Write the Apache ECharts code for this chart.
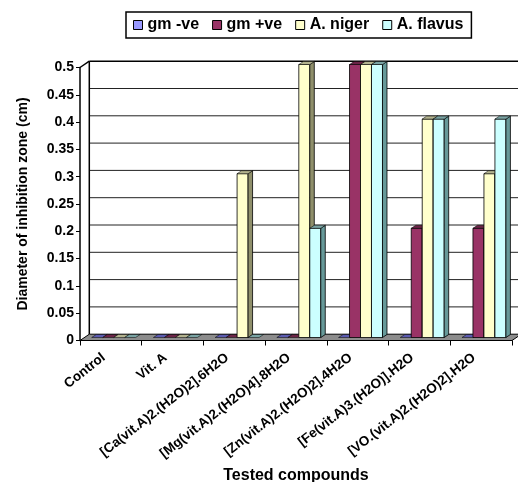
<!DOCTYPE html>
<html>
<head>
<meta charset="utf-8">
<script src="https://cdn.jsdelivr.net/npm/echarts@6/dist/echarts.min.js"></script>
<style>
  html, body { margin: 0; padding: 0; background: #fff; }
  #chart { width: 518px; height: 482px; }
</style>
</head>
<body>
<div id="chart"></div>
<script>
// Tested compounds and inhibition zone diameters (cm)
const categories = [
  'Control',
  'Vit. A',
  '[Ca(vit.A)2.(H2O)2].6H2O',
  '[Mg(vit.A)2.(H2O)4].8H2O',
  '[Zn(vit.A)2.(H2O)2].4H2O',
  '[Fe(vit.A)3.(H2O)].H2O',
  '[VO.(vit.A)2.(H2O)2].H2O'
];
const seriesNames = ['gm -ve', 'gm +ve', 'A. niger', 'A. flavus'];
const gmNeg   = [0, 0, 0,   0,   0,   0,   0];
const gmPos   = [0, 0, 0,   0,   0.5, 0.2, 0.2];
const aNiger  = [0, 0, 0.3, 0.5, 0.5, 0.4, 0.3];
const aFlavus = [0, 0, 0,   0.2, 0.5, 0.4, 0.4];
const yTicks  = [0, 0.05, 0.1, 0.15, 0.2, 0.25, 0.3, 0.35, 0.4, 0.45, 0.5];

const FONT = '"Liberation Sans", Arial, sans-serif';

// depth of the chart box (back wall offset) and of each column
const WALL_DX = 9.3, WALL_DY = -6.3;
const BAR_FX = 2.8, BAR_FY = -3;     // front face of the columns, behind the front plane
const BAR_DX = 4.5, BAR_DY = -3;     // column depth
const BAR_FRAC = 0.178;              // column width as share of a category band

// face colours: front, side, top (top also shows for zero-height columns)
const palette = [
  { front: '#9999FF', side: '#4d4d99', top: '#5c5cb0' },
  { front: '#993366', side: '#4d1a33', top: '#6b2447' },
  { front: '#FFFFCC', side: '#8f8f6b', top: '#b3b38f' },
  { front: '#CCFFFF', side: '#669999', top: '#7aa3a3' }
];
const seriesValues = [gmNeg, gmPos, aNiger, aFlavus];

const edge = { stroke: '#000', lineWidth: 0.8 };

function wallsRender(params, api) {
  const cs = params.coordSys;
  const x0 = cs.x, x1 = cs.x + cs.width;
  const yTop = api.coord([0, yTicks[yTicks.length - 1]])[1];
  const yZero = api.coord([0, 0])[1];
  const children = [];
  // horizontal gridlines on the back wall
  yTicks.forEach(function (v) {
    if (v === 0) return;
    const y = api.coord([0, v])[1] + WALL_DY;
    const isTop = v === yTicks[yTicks.length - 1];
    children.push({
      type: 'line',
      shape: { x1: x0 + WALL_DX, y1: y, x2: x1 + WALL_DX, y2: y },
      style: { stroke: isTop ? '#000' : '#222', lineWidth: isTop ? 1.5 : 1 }
    });
  });
  // back wall left edge
  children.push({
    type: 'line',
    shape: { x1: x0 + WALL_DX, y1: yTop + WALL_DY, x2: x0 + WALL_DX, y2: yZero + WALL_DY },
    style: { stroke: '#000', lineWidth: 1.5 }
  });
  // side wall top edge
  children.push({
    type: 'line',
    shape: { x1: x0, y1: yTop, x2: x0 + WALL_DX, y2: yTop + WALL_DY },
    style: { stroke: '#000', lineWidth: 1.5 }
  });
  // floor
  children.push({
    type: 'polygon',
    shape: { points: [[x0, yZero], [x1, yZero], [x1 + WALL_DX, yZero + WALL_DY], [x0 + WALL_DX, yZero + WALL_DY]] },
    style: { fill: '#8c8c8c', stroke: '#000', lineWidth: 1 }
  });
  return { type: 'group', children: children };
}

function barRender(k) {
  const c = palette[k];
  return function (params, api) {
    const i = api.value(0), v = api.value(1);
    const base = api.coord([i, 0]);
    const top = api.coord([i, v]);
    const band = api.size([1, 0])[0];
    const w = band * BAR_FRAC;
    const xa = base[0] - 2 * w + k * w + BAR_FX;
    const xb = xa + w;
    const yb = base[1] + BAR_FY;
    const yt = top[1] + BAR_FY;
    const children = [];
    if (yb - yt > 0.5) {
      children.push({
        type: 'rect',
        shape: { x: xa, y: yt, width: w, height: yb - yt },
        style: Object.assign({ fill: c.front }, edge)
      });
      children.push({
        type: 'polygon',
        shape: { points: [[xb, yb], [xb + BAR_DX, yb + BAR_DY], [xb + BAR_DX, yt + BAR_DY], [xb, yt]] },
        style: Object.assign({ fill: c.side }, edge)
      });
    }
    children.push({
      type: 'polygon',
      shape: { points: [[xa, yt], [xb, yt], [xb + BAR_DX, yt + BAR_DY], [xa + BAR_DX, yt + BAR_DY]] },
      style: Object.assign({ fill: c.top }, edge, { lineWidth: 0.5 })
    });
    return { type: 'group', children: children };
  };
}

const series = [{
  type: 'custom',
  name: '__walls',
  silent: true,
  z: 1,
  renderItem: wallsRender,
  data: [[0, 0]],
  encode: { x: 0, y: 1 }
}];
seriesValues.forEach(function (vals, k) {
  series.push({
    type: 'custom',
    name: seriesNames[k],
    z: 2 + k,
    itemStyle: { color: palette[k].front, borderColor: '#000', borderWidth: 1 },
    renderItem: barRender(k),
    data: vals.map(function (v, i) { return [i, v]; }),
    encode: { x: 0, y: 1 }
  });
});

const chart = echarts.init(document.getElementById('chart'), null, { renderer: 'canvas' });
chart.setOption({
  animation: false,
  backgroundColor: '#fff',
  textStyle: { fontFamily: FONT },
  legend: {
    data: seriesNames,
    left: 126,
    top: 12,
    icon: 'rect',
    itemWidth: 9,
    itemHeight: 9,
    itemGap: 13,
    itemStyle: { borderColor: '#000', borderWidth: 1 },
    borderColor: '#000',
    borderWidth: 1.5,
    padding: [5, 8, 5, 7],
    textStyle: { fontFamily: FONT, fontWeight: 'bold', fontSize: 16, color: '#000' }
  },
  grid: { left: 80, right: 6, top: 67.5, bottom: 141.5, containLabel: false, outerBoundsMode: 'none' },
  xAxis: {
    type: 'category',
    data: categories,
    boundaryGap: true,
    axisLine: { lineStyle: { color: '#000', width: 1.2 } },
    axisTick: { show: true, alignWithLabel: false, length: 5, lineStyle: { color: '#000', width: 1 } },
    axisLabel: {
      interval: 0,
      rotate: 38,
      margin: 10,
      padding: [0, 9, 0, 0],
      fontFamily: FONT,
      fontWeight: 'bold',
      fontSize: 13.5,
      color: '#000'
    },
    name: 'Tested compounds',
    nameLocation: 'middle',
    nameGap: 123,
    nameTextStyle: { fontFamily: FONT, fontWeight: 'bold', fontSize: 16, color: '#000' },
    splitLine: { show: false }
  },
  yAxis: {
    type: 'value',
    min: 0,
    max: 0.5,
    interval: 0.05,
    axisLine: { show: true, lineStyle: { color: '#000', width: 1.5 } },
    axisTick: { show: true, length: 4, lineStyle: { color: '#000', width: 1 } },
    axisLabel: {
      margin: 6,
      fontFamily: FONT,
      fontWeight: 'bold',
      fontSize: 14,
      color: '#000',
      formatter: function (v) { return String(Math.round(v * 100) / 100); }
    },
    splitLine: { show: false },
    name: 'Diameter of inhibition zone (cm)',
    nameLocation: 'middle',
    nameGap: 50,
    nameTextStyle: { fontFamily: FONT, fontWeight: 'bold', fontSize: 14, color: '#000' }
  },
  series: series
});
</script>
</body>
</html>
